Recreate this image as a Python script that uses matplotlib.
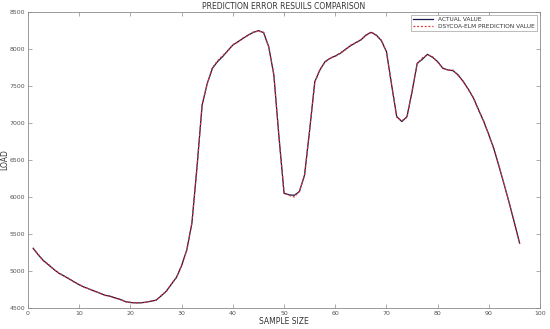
import matplotlib
matplotlib.use("Agg")
import matplotlib.pyplot as plt

sample = list(range(1, 97))
actual = [5307, 5217, 5141, 5082, 5024, 4970, 4934, 4893, 4853, 4812,
          4781, 4754, 4727, 4700, 4672, 4659, 4636, 4614, 4587, 4573,
          4569, 4569, 4578, 4591, 4605, 4663, 4727, 4821, 4916, 5073,
          5285, 5645, 6411, 7244, 7536, 7739, 7829, 7897, 7978, 8054,
          8099, 8144, 8189, 8225, 8248, 8221, 8032, 7649, 6816, 6050,
          6028, 6023, 6073, 6298, 6906, 7559, 7717, 7829, 7874, 7906,
          7942, 7996, 8045, 8086, 8122, 8189, 8225, 8189, 8113, 7964,
          7514, 7086, 7019, 7086, 7424, 7807, 7861, 7928, 7888, 7829,
          7739, 7717, 7707, 7649, 7559, 7455, 7334, 7176, 7019, 6839,
          6645, 6411, 6163, 5915, 5645, 5375]
predicted = [5300, 5225, 5135, 5090, 5020, 4975, 4930, 4898, 4850, 4818,
             4776, 4758, 4722, 4705, 4668, 4662, 4631, 4618, 4583, 4577,
             4566, 4572, 4575, 4594, 4602, 4668, 4722, 4826, 4910, 5080,
             5278, 5652, 6400, 7252, 7528, 7745, 7840, 7910, 7970, 8060,
             8092, 8150, 8182, 8230, 8240, 8228, 8025, 7660, 6805, 6058,
             6020, 6000, 6080, 6290, 6915, 7550, 7725, 7820, 7880, 7900,
             7950, 7990, 8052, 8080, 8128, 8182, 8232, 8183, 8120, 7955,
             7525, 7078, 7030, 7075, 7435, 7798, 7880, 7920, 7895, 7820,
             7745, 7710, 7715, 7640, 7565, 7448, 7340, 7168, 7025, 6832,
             6652, 6405, 6170, 5908, 5652, 5368]

xticks = list(range(0, 101, 10))
yticks = list(range(4500, 8501, 500))

fig = plt.figure(figsize=(5.5, 3.29), dpi=100)
ax = fig.add_axes([0.051, 0.064, 0.931, 0.8995])

ax.plot(sample, actual, color="#1a1a4a", lw=0.9, label="ACTUAL VALUE")
ax.plot(sample, predicted, color="#e03030", lw=0.9, ls=(0, (1.5, 1.5)),
        label="DSYCOA-ELM PREDICTION VALUE")

ax.set_xlim(0, 100)
ax.set_ylim(4500, 8500)
ax.set_xticks(xticks)
ax.set_yticks(yticks)
gray = "#8a8a8a"
for s in ax.spines.values():
    s.set_color(gray)
    s.set_linewidth(0.6)
ax.tick_params(direction="in", length=3, width=0.5, colors=gray,
               labelcolor="#555555", labelsize=4.5, top=True, right=True, pad=2)
ax.set_xlabel("SAMPLE SIZE", fontsize=5.5, color="#333333", labelpad=1)
ax.set_ylabel("LOAD", fontsize=5.5, color="#333333")
ax.yaxis.set_label_coords(-0.036, 0.5)
ax.set_title("PREDICTION ERROR RESUILS COMPARISON", fontsize=5.5,
             color="#333333", pad=2)
leg = ax.legend(loc="upper right", fontsize=4.2, frameon=True, fancybox=False,
                edgecolor=gray, handlelength=3.5, borderpad=0.4,
                labelspacing=0.2, borderaxespad=0.5)
leg.get_frame().set_linewidth(0.5)
for t in leg.get_texts():
    t.set_color("#333333")

fig.savefig("out.png", dpi=100)
